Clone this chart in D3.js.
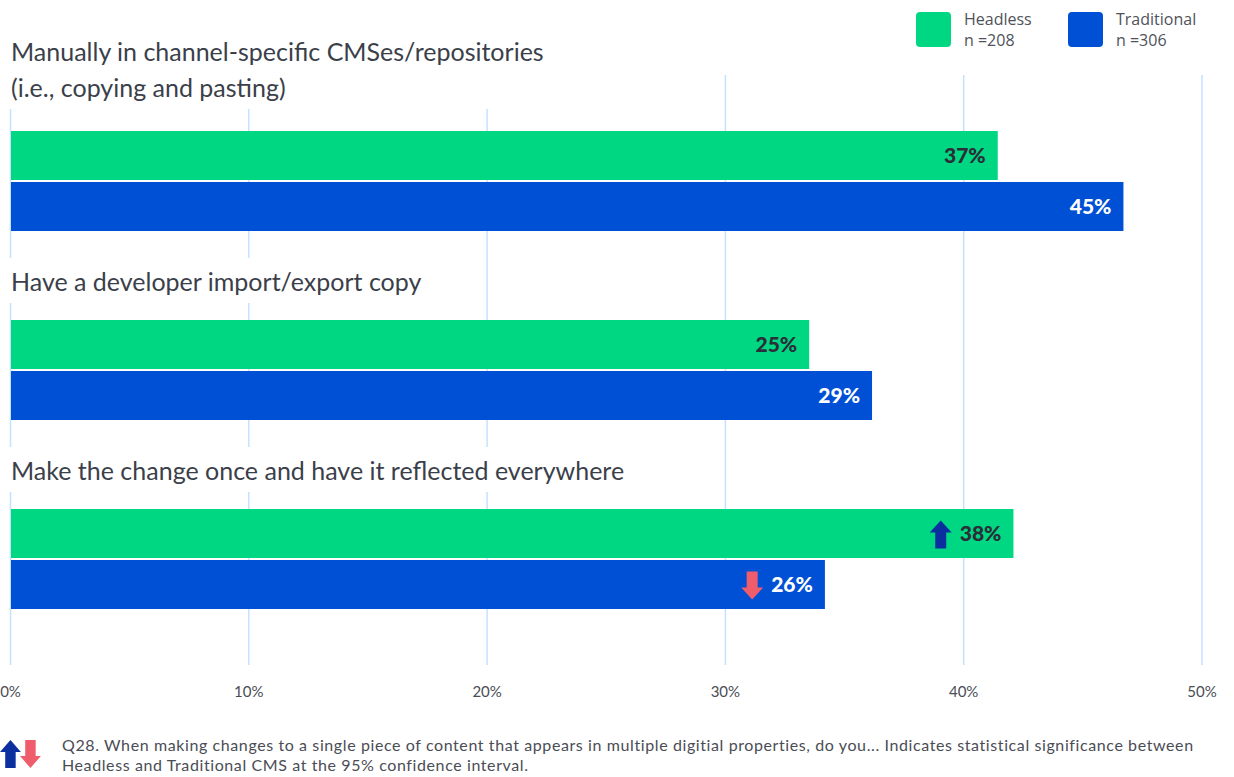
<!DOCTYPE html>
<html>
<head>
<meta charset="utf-8">
<script src="https://cdn.jsdelivr.net/npm/d3@7"></script>
<style>
  html, body { margin: 0; padding: 0; background: #ffffff; }
  svg { display: block; }
  text { font-family: Lato, "Noto Sans", sans-serif; }
  text.note { font-family: "Open Sans", sans-serif; }
  text.foot { letter-spacing: 0.6px; }
</style>
</head>
<body>
<svg id="chart" width="1234" height="777"></svg>
<script>
// Survey answers and results
const categories = [
  ["Manually in channel-specific CMSes/repositories", "(i.e., copying and pasting)"],
  ["Have a developer import/export copy"],
  ["Make the change once and have it reflected everywhere"]
];
const seriesNames = ["Headless", "Traditional"];
const seriesCounts = ["n =208", "n =306"];
const headless = [37, 25, 38];
const traditional = [45, 29, 26];
// significance markers: "up" / "down" / null
const headlessSig = [null, null, "up"];
const traditionalSig = [null, null, "down"];
const tickValues = [0, 10, 20, 30, 40, 50];
const footnote = [
  "Q28. When making changes to a single piece of content that appears in multiple digitial properties, do you... Indicates statistical significance between",
  "Headless and Traditional CMS at the 95% confidence interval."
];

const colors = { Headless: "#00d782", Traditional: "#0050d5" };
const arrowColors = { up: "#0a2f9e", down: "#ef5d6c" };
const gridColor = "#c4e2ff";
const textColor = "#3b3f4a";

const svg = d3.select("#chart");

// axis scale for the percentage gridlines
const x = d3.scaleLinear().domain([0, 50]).range([10.5, 1202]);
// bar length scale (bars begin from a baseline below zero)
const barX = d3.scaleLinear().domain([-25.8, 50]).range([11, 1202]);

const groupY = d3.scaleBand().domain(d3.range(categories.length)).range([131, 131 + 189 * 3]);
const barY = d3.scaleBand().domain(seriesNames).range([0, 100]).paddingInner(2 / 51);

// gridlines
const grid = svg.append("g");
grid.selectAll("line").data(tickValues).join("line")
  .attr("x1", d => x(d)).attr("x2", d => x(d))
  .attr("y1", 75).attr("y2", 665)
  .attr("stroke", gridColor).attr("stroke-width", 1.5);

// tick labels
svg.append("g").selectAll("text").data(tickValues).join("text")
  .attr("x", d => x(d)).attr("y", 697)
  .attr("text-anchor", "middle")
  .attr("font-size", 15).attr("fill", "#4a4d55")
  .text(d => d + "%");

// category labels with a white backing that hides gridlines
const labelG = svg.append("g");
categories.forEach((lines, i) => {
  const top = groupY(i);
  const lastBase = top - (lines.length > 1 ? 34 : 29);
  const g = labelG.append("g");
  const bg = g.append("rect").attr("fill", "#ffffff");
  const texts = lines.map((ln, j) => g.append("text")
    .attr("x", 11)
    .attr("y", lastBase - (lines.length - 1 - j) * 36)
    .attr("font-size", 25).attr("fill", textColor)
    .text(ln));
  let maxW = 0;
  texts.forEach(t => { maxW = Math.max(maxW, t.node().getComputedTextLength()); });
  const firstBase = lastBase - (lines.length - 1) * 36;
  bg.attr("x", 0).attr("y", firstBase - 33)
    .attr("width", 11 + maxW + 4).attr("height", lastBase + 12 - (firstBase - 33));
});

// bars
const rows = categories.map((c, i) => ({
  i,
  values: [
    { key: "Headless", v: headless[i], sig: headlessSig[i] },
    { key: "Traditional", v: traditional[i], sig: traditionalSig[i] }
  ]
}));

const groups = svg.append("g").selectAll("g").data(rows).join("g")
  .attr("transform", d => `translate(0,${groupY(d.i)})`);

const bars = groups.selectAll("g").data(d => d.values).join("g")
  .attr("transform", d => `translate(0,${barY(d.key)})`);

bars.append("rect")
  .attr("x", barX.range()[0])
  .attr("y", 0)
  .attr("width", d => barX(d.v) - barX.range()[0])
  .attr("height", barY.bandwidth())
  .attr("fill", d => colors[d.key]);

bars.append("text")
  .attr("x", d => barX(d.v) - 12)
  .attr("y", barY.bandwidth() / 2 + 7.5)
  .attr("text-anchor", "end")
  .attr("font-size", 21).attr("font-weight", 900)
  .attr("fill", d => d.key === "Headless" ? "#2b2d38" : "#ffffff")
  .text(d => d.v + "%");

// arrow glyph: shaft + head, drawn in a 22x28 box
function arrowPath(dir) {
  const up = "M11,0 L22,12 L16.5,12 L16.5,28 L5.5,28 L5.5,12 L0,12 Z";
  const down = "M11,28 L22,16 L16.5,16 L16.5,0 L5.5,0 L5.5,16 L0,16 Z";
  return dir === "up" ? up : down;
}

bars.filter(d => d.sig).each(function(d) {
  const g = d3.select(this);
  const w = g.select("text").node().getComputedTextLength();
  const ax = barX(d.v) - 12 - w - 8 - 22;
  g.append("path")
    .attr("d", arrowPath(d.sig))
    .attr("transform", `translate(${ax},${barY.bandwidth() / 2 - 13})`)
    .attr("fill", arrowColors[d.sig]);
});

// legend
const legend = svg.append("g");
seriesNames.forEach((name, i) => {
  const lx = 916 + i * 152;
  legend.append("rect").attr("x", lx).attr("y", 12).attr("width", 35).attr("height", 35)
    .attr("rx", 4).attr("fill", colors[name]);
  legend.append("text").attr("class", "note").attr("x", lx + 48).attr("y", 25)
    .attr("font-size", 16).attr("fill", "#4f525a").text(name);
  legend.append("text").attr("class", "note").attr("x", lx + 48).attr("y", 46)
    .attr("font-size", 16).attr("fill", "#4f525a").text(seriesCounts[i]);
});

// footnote with significance icons
const foot = svg.append("g");
foot.append("path").attr("d", arrowPath("up"))
  .attr("transform", "translate(0,740) scale(0.95,1)").attr("fill", arrowColors.up);
foot.append("path").attr("d", arrowPath("down"))
  .attr("transform", "translate(20,740) scale(0.95,1)").attr("fill", arrowColors.down);
footnote.forEach((ln, j) => {
  foot.append("text").attr("class", "foot").attr("x", 62).attr("y", 751 + j * 20)
    .attr("font-size", 16).attr("fill", "#4a4d55").text(ln);
});
</script>
</body>
</html>
